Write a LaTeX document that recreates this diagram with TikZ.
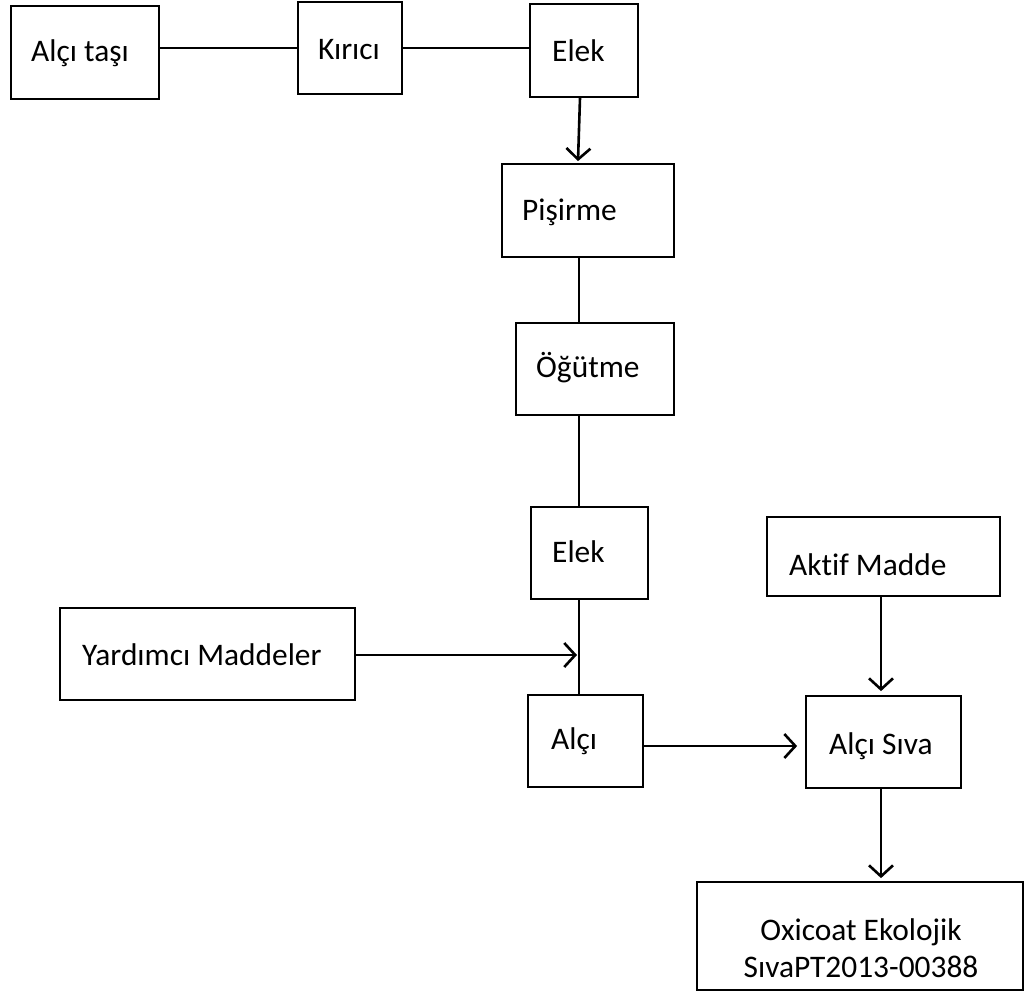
\documentclass[tikz,border=0pt]{standalone}
\usepackage{fontspec}
\setmainfont{Carlito}[Ligatures={NoCommon}]
\usetikzlibrary{arrows.meta}
\tikzset{
  box/.style={draw=black, line width=1.8pt, inner sep=0pt, rectangle},
  lbl/.style={anchor=base west, inner sep=0pt, font=\fontsize{31.4}{37}\selectfont},
  clbl/.style={anchor=base, inner sep=0pt, font=\fontsize{31.4}{37}\selectfont},
  conn/.style={draw=black, line width=1.5pt},
  arr/.style={draw=black, line width=2.6pt, -{Straight Barb[length=11pt,width=24pt,line width=2.6pt]}},
}
\begin{document}
\begin{tikzpicture}[x=1pt,y=-1pt]
\useasboundingbox (0,0) rectangle (1027,991);
% boxes
\node[box, minimum width=148pt, minimum height=93pt] (tasi)  at (85,52.5) {};
\node[box, minimum width=104pt, minimum height=92pt] (kirici) at (350,48) {};
\node[box, minimum width=108pt, minimum height=93pt] (elek1) at (584,50.5) {};
\node[box, minimum width=172pt, minimum height=93pt] (pis)   at (588,210.5) {};
\node[box, minimum width=158pt, minimum height=92pt] (ogut)  at (595,369) {};
\node[box, minimum width=117pt, minimum height=92pt] (elek2) at (589.5,553) {};
\node[box, minimum width=295pt, minimum height=92pt] (yard)  at (207.5,654) {};
\node[box, minimum width=115pt, minimum height=92pt] (alci)  at (585.5,741) {};
\node[box, minimum width=233pt, minimum height=79pt] (aktif) at (883.5,556.5) {};
\node[box, minimum width=155pt, minimum height=92pt] (siva)  at (883.5,742) {};
\node[box, minimum width=326pt, minimum height=108pt] (oxi)  at (860,936) {};
% texts
\node[lbl] (ttasi) at (31,61) {Alçı taşı};
\node[lbl] (tkir) at (318,59) {Kırıcı};
\node[lbl] (tel1) at (552,61) {Elek};
\node[lbl] (tpis) at (522,220) {Pişirme};
\node[lbl] (togu) at (536,377) {Öğütme};
\node[lbl] (tel2) at (552,562) {Elek};
\node[lbl] (tyar) at (82,665) {Yardımcı Maddeler};
\node[lbl] (talc) at (551,749) {Alçı};
\node[lbl] (tsiv) at (829,754) {Alçı Sıva};
\node[lbl] (takt) at (789,575) {Aktif Madde};
\node[clbl] (tox1) at (861,940) {Oxicoat Ekolojik};
\node[clbl] (tox2) at (861,977) {SıvaPT2013-00388};
% helper coordinates
\coordinate (col) at (579,0);
\coordinate (col2) at (881,0);
\coordinate (yrow) at (0,655);
\coordinate (arow) at (0,746);
% connectors
\draw[conn] (tasi.east |- kirici.west) -- (kirici.west);
\draw[conn] (kirici.east) -- (kirici.east -| elek1.west);
\draw[arr] ([xshift=-4pt]elek1.south) -- ([xshift=-10pt,yshift=2pt]pis.north);
\draw[conn] (col |- pis.south) -- (col |- ogut.north);
\draw[conn] (col |- ogut.south) -- (col |- elek2.north);
\draw[conn] (col |- elek2.south) -- (col |- alci.north);
\draw[arr] (yard.east |- yrow) -- ([xshift=-2pt]col |- yrow);
\draw[arr] (alci.east |- arow) -- ([xshift=-8pt]siva.west |- arow);
\draw[arr] (col2 |- aktif.south) -- ([yshift=4pt]col2 |- siva.north);
\draw[arr] (col2 |- siva.south) -- ([yshift=3pt]col2 |- oxi.north);
\end{tikzpicture}
\end{document}
